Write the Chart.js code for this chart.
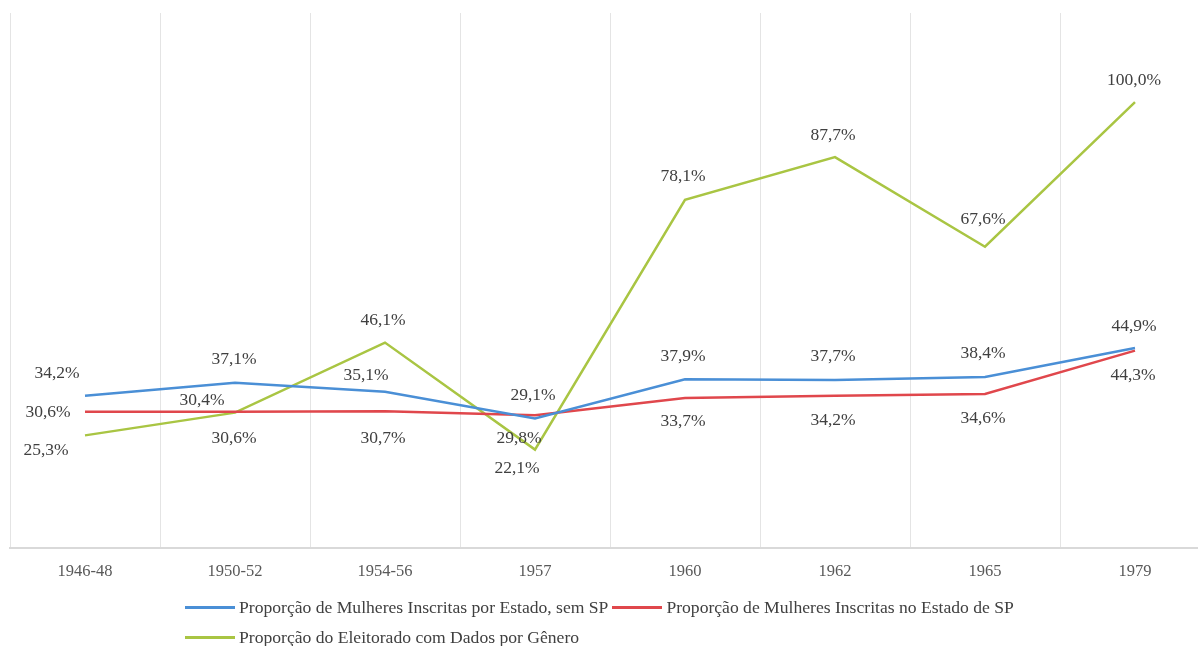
<!DOCTYPE html>
<html>
<head>
<meta charset="utf-8">
<script src="https://cdn.jsdelivr.net/npm/chart.js@4.4.0/dist/chart.umd.min.js"></script>
<style>
  html, body { margin: 0; padding: 0; background: #fff; overflow: hidden; }
  #wrap { position: relative; width: 1212px; height: 646px; }
  #legend {
    position: absolute; left: 185px; top: 592px; width: 900px;
    font-family: "Liberation Serif", "DejaVu Serif", serif; font-size: 17.6px; color: #404040;
    line-height: 30px;
  }
  .item { display: inline-block; margin-right: 4px; white-space: nowrap; }
  .swatch { display: inline-block; width: 50px; height: 3px; vertical-align: middle; margin-right: 4px; position: relative; top: -1px; }
</style>
</head>
<body>
<div id="wrap">
  <canvas id="chart" width="1212" height="646"></canvas>
  <div id="legend"></div>
</div>
<script>
const categories = ['1946-48', '1950-52', '1954-56', '1957', '1960', '1962', '1965', '1979'];
const semSP = [34.2, 37.1, 35.1, 29.1, 37.9, 37.7, 38.4, 44.9];
const estadoSP = [30.6, 30.6, 30.7, 29.8, 33.7, 34.2, 34.6, 44.3];
const eleitorado = [25.3, 30.4, 46.1, 22.1, 78.1, 87.7, 67.6, 100.0];
const seriesNames = [
    'Proporção de Mulheres Inscritas por Estado, sem SP',
    'Proporção de Mulheres Inscritas no Estado de SP',
    'Proporção do Eleitorado com Dados por Gênero'
];
const colors = ['#4a8fd6', '#e0474c', '#a9c543'];

// label offsets from each point (dx, dy), per series
const labelOffsets = [
    [[-28, -22], [-1, -23], [-19, -16], [-2, -23], [-2, -23], [-2, -24], [-2, -24], [-1, -22]],
    [[-37, 1], [-1, 27], [-2, 27], [-16, 23], [-2, 24], [-2, 25], [-2, 25], [-2, 25]],
    [[-39, 15], [-33, -12], [-2, -22], [-18, 19], [-2, -23], [-2, -22], [-2, -27], [-1, -22]]
];

const serif = '"Liberation Serif", "DejaVu Serif", serif';

const pointLabels = {
    id: 'pointLabels',
    afterDatasetsDraw(chart) {
        const ctx = chart.ctx;
        ctx.save();
        ctx.font = '17.5px ' + serif;
        ctx.fillStyle = '#404040';
        ctx.textAlign = 'center';
        ctx.textBaseline = 'middle';
        chart.data.datasets.forEach((ds, di) => {
            const meta = chart.getDatasetMeta(di);
            meta.data.forEach((pt, i) => {
                const off = labelOffsets[di][i];
                const text = ds.data[i].toFixed(1).replace('.', ',') + '%';
                ctx.fillText(text, pt.x + off[0], pt.y + off[1]);
            });
        });
        ctx.restore();
    }
};

function makeDataset(name, values, color) {
    return {
        label: name,
        data: values,
        borderColor: color,
        backgroundColor: color,
        borderWidth: 2.5,
        pointRadius: 0,
        tension: 0,
        fill: false
    };
}

new Chart(document.getElementById('chart'), {
    type: 'line',
    data: {
        labels: categories,
        datasets: [
            makeDataset(seriesNames[0], semSP, colors[0]),
            makeDataset(seriesNames[1], estadoSP, colors[1]),
            makeDataset(seriesNames[2], eleitorado, colors[2])
        ]
    },
    options: {
        responsive: false,
        animation: false,
        layout: {
            padding: { left: 10, right: 2, top: 13, bottom: 50 }
        },
        plugins: {
            legend: { display: false },
            tooltip: { enabled: false }
        },
        scales: {
            x: {
                offset: true,
                grid: { offset: true, color: '#e4e4e4', lineWidth: 1, drawTicks: false },
                border: { color: '#d9d9d9', width: 2 },
                ticks: { font: { family: serif, size: 16.5 }, color: '#595959', padding: 14 }
            },
            y: {
                display: false,
                min: 0,
                max: 120
            }
        }
    },
    plugins: [pointLabels]
});

const legend = document.getElementById('legend');
seriesNames.forEach((name, i) => {
    const item = document.createElement('span');
    item.className = 'item';
    const sw = document.createElement('span');
    sw.className = 'swatch';
    sw.style.background = colors[i];
    item.appendChild(sw);
    item.appendChild(document.createTextNode(name));
    legend.appendChild(item);
});
</script>
</body>
</html>
